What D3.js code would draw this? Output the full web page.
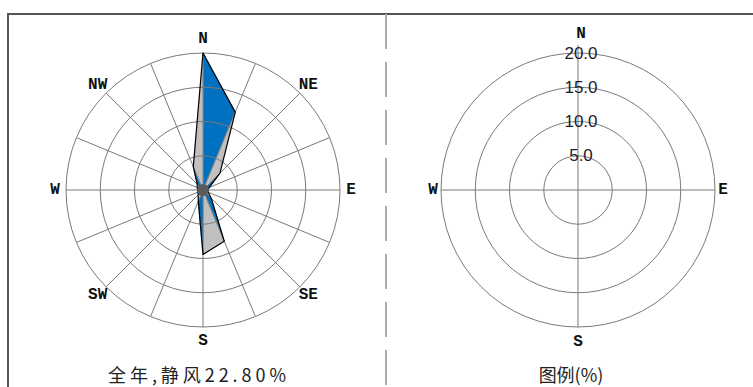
<!DOCTYPE html>
<html>
<head>
<meta charset="utf-8">
<script src="https://cdn.jsdelivr.net/npm/d3@7"></script>
<style>
  html, body { margin: 0; padding: 0; background: #fff; }
  svg { display: block; }
</style>
</head>
<body>
<svg id="chart" width="753" height="387"></svg>
<script>
// 16 wind directions, clockwise from north
const directions = ["N","NNE","NE","ENE","E","ESE","SE","SSE","S","SSW","SW","WSW","W","WNW","NW","NNW"];
// frequency per direction (%)
const freq = [20.0, 12.3, 3.5, 1.0, 0.7, 0.8, 1.7, 8.1, 9.4, 1.8, 1.0, 0.8, 0.8, 0.9, 1.2, 3.7];
const calm = 22.80;
const ringTicks = [5, 10, 15, 20];
const roseLabels = ["N","NE","E","SE","S","SW","W","NW"];
const legendLabels = ["N","E","S","W"];

const width = 753, height = 387;
const R = 137;
const leftC = [203, 190], rightC = [578, 190];
const gridCol = "#7a7a7a";

const svg = d3.select("#chart");

const r = d3.scaleLinear().domain([0, 20]).range([0, R]);
const ang = d3.scaleLinear().domain([0, directions.length]).range([0, 2 * Math.PI]);

// frame
svg.append("line").attr("x1", 7).attr("x2", width).attr("y1", 14).attr("y2", 14)
  .attr("stroke", "#555").attr("stroke-width", 2);
svg.append("line").attr("x1", 8).attr("x2", 8).attr("y1", 13).attr("y2", height)
  .attr("stroke", "#555").attr("stroke-width", 2);
svg.append("line").attr("x1", 386).attr("x2", 386).attr("y1", 14).attr("y2", height)
  .attr("stroke", "#aaa").attr("stroke-width", 2).attr("stroke-dasharray", "35,13");

// ---- left: wind rose
const g = svg.append("g").attr("transform", `translate(${leftC})`);

const pts = freq.map((v, i) => d3.pointRadial(ang(i), r(v)));

// alternating sector fills (triangles center -> dir i -> dir i+1)
g.append("g")
  .selectAll("path")
  .data(d3.range(directions.length))
  .join("path")
  .attr("d", i => `M0,0L${pts[i]}L${pts[(i + 1) % pts.length]}Z`)
  .attr("fill", i => i % 2 == 0 ? "#0070c0" : "#c0c0c0")
  .attr("stroke", i => i % 2 == 0 ? "#0070c0" : "#c0c0c0")
  .attr("stroke-width", 0.5);

// grid
g.append("g")
  .selectAll("circle")
  .data(ringTicks)
  .join("circle")
  .attr("r", d => r(d))
  .attr("fill", "none")
  .attr("stroke", gridCol)
  .attr("stroke-width", 1);

g.append("g")
  .selectAll("line")
  .data(directions)
  .join("line")
  .attr("x1", 0).attr("y1", 0)
  .attr("x2", (d, i) => d3.pointRadial(ang(i), R)[0])
  .attr("y2", (d, i) => d3.pointRadial(ang(i), R)[1])
  .attr("stroke", gridCol)
  .attr("stroke-width", 1);

// outline
g.append("path")
  .attr("d", "M" + pts.join("L") + "Z")
  .attr("fill", "none")
  .attr("stroke", "#000")
  .attr("stroke-width", 1.2)
  .attr("stroke-linejoin", "round");

g.append("circle").attr("r", 6).attr("fill", "#5a5a5a");

g.append("g")
  .selectAll("text")
  .data(roseLabels)
  .join("text")
  .attr("x", (d, i) => d3.pointRadial(i * Math.PI / 4, i % 2 ? 149 : 148)[0])
  .attr("y", (d, i) => d3.pointRadial(i * Math.PI / 4, i % 2 ? 149 : 151)[1])
  .attr("text-anchor", "middle")
  .attr("dominant-baseline", "central")
  .attr("font-family", "Liberation Mono, monospace")
  .attr("font-size", 16)
  .attr("font-weight", "bold")
  .attr("fill", "#111")
  .text(d => d);

svg.append("text")
  .attr("x", 197).attr("y", 382)
  .attr("text-anchor", "middle")
  .attr("font-family", "Noto Sans CJK SC")
  .attr("font-size", 18)
  .attr("fill", "#222")
  .attr("textLength", 178)
  .attr("lengthAdjust", "spacing")
  .text(`全年,静风${calm.toFixed(2)}%`);

// ---- right: legend
const lg = svg.append("g").attr("transform", `translate(${rightC})`);

lg.append("g")
  .selectAll("circle")
  .data(ringTicks)
  .join("circle")
  .attr("r", d => r(d))
  .attr("fill", "none")
  .attr("stroke", gridCol)
  .attr("stroke-width", 1);

lg.append("line").attr("x1", -R).attr("x2", R).attr("y1", 0).attr("y2", 0)
  .attr("stroke", gridCol);
lg.append("line").attr("x1", 0).attr("x2", 0).attr("y1", -R - 8).attr("y2", R)
  .attr("stroke", gridCol);

lg.append("g")
  .selectAll("text")
  .data(legendLabels)
  .join("text")
  .attr("x", (d, i) => d3.pointRadial(i * Math.PI / 2, i % 2 ? 145 : 150)[0] + (i == 0 ? 3 : 0))
  .attr("y", (d, i) => d3.pointRadial(i * Math.PI / 2, i % 2 ? 145 : (i == 0 ? 156 : 152))[1])
  .attr("text-anchor", "middle")
  .attr("dominant-baseline", "central")
  .attr("font-family", "Liberation Mono, monospace")
  .attr("font-size", 16)
  .attr("font-weight", "bold")
  .attr("fill", "#111")
  .text(d => d);

lg.append("g")
  .selectAll("text")
  .data(ringTicks)
  .join("text")
  .attr("x", 3)
  .attr("y", d => -r(d))
  .attr("text-anchor", "middle")
  .attr("dominant-baseline", "central")
  .attr("font-family", "Liberation Sans, Arial, sans-serif")
  .attr("font-size", 17)
  .attr("fill", "#1c1c30")
  .text(d => d.toFixed(1));

svg.append("text")
  .attr("x", 571).attr("y", 382)
  .attr("text-anchor", "middle")
  .attr("font-family", "Noto Sans CJK SC")
  .attr("font-size", 18)
  .attr("fill", "#222")
  .text("图例(%)");
</script>
</body>
</html>
